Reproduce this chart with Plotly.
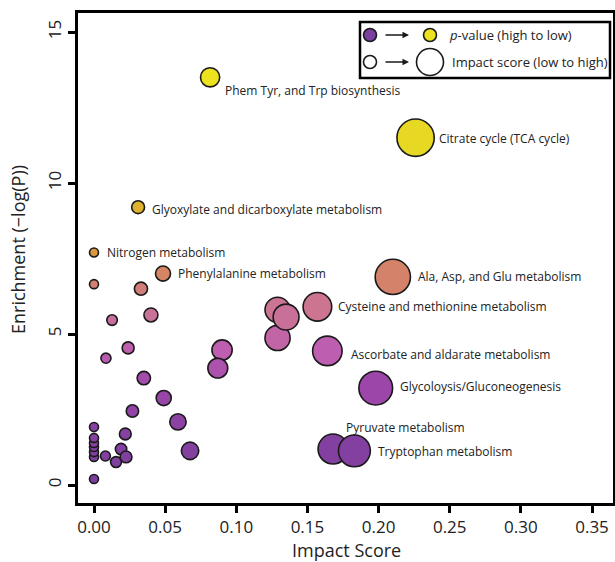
import plotly.graph_objects as go

# ---- data ----
impact = [0.000, 0.000, 0.000, 0.000, 0.000, 0.000, 0.000, 0.008, 0.0155, 0.019, 0.0225,
          0.022, 0.027, 0.0675, 0.059, 0.049, 0.035, 0.0084, 0.024, 0.0127, 0.040,
          0.033, 0.000, 0.0485, 0.000, 0.031, 0.090, 0.087,
          0.129, 0.129, 0.135, 0.157, 0.164, 0.198, 0.210, 0.168, 0.183,
          0.0816, 0.226]
enrich = [0.20, 0.93, 1.09, 1.26, 1.39, 1.56, 1.92, 0.96, 0.76, 1.19, 0.93,
          1.69, 2.45, 1.13, 2.09, 2.88, 3.54, 4.20, 4.54, 5.46, 5.63,
          6.50, 6.65, 7.00, 7.70, 9.20, 4.47, 3.87,
          4.87, 5.80, 5.56, 5.90, 4.44, 3.21, 6.89, 1.19, 1.13,
          13.50, 11.50]
labels = ["", "", "", "", "", "", "", "", "", "", "",
          "", "", "", "", "", "", "", "", "", "",
          "", "", "Phenylalanine metabolism", "Nitrogen metabolism",
          "Glyoxylate and dicarboxylate metabolism", "", "",
          "", "", "", "Cysteine and methionine metabolism",
          "Ascorbate and aldarate metabolism", "Glycoloysis/Gluconeogenesis",
          "Ala, Asp, and Glu metabolism", "Pyruvate metabolism", "Tryptophan metabolism",
          "Phem Tyr, and Trp biosynthesis", "Citrate cycle (TCA cycle)"]
# label offsets in pixels (dx, dy) relative to the point
label_dx = {"Phenylalanine metabolism": 13, "Nitrogen metabolism": 11,
            "Glyoxylate and dicarboxylate metabolism": 12,
            "Cysteine and methionine metabolism": 19,
            "Ascorbate and aldarate metabolism": 22,
            "Glycoloysis/Gluconeogenesis": 22, "Ala, Asp, and Glu metabolism": 23,
            "Pyruvate metabolism": 11, "Tryptophan metabolism": 22,
            "Phem Tyr, and Trp biosynthesis": 13, "Citrate cycle (TCA cycle)": 21}
label_dy = {"Phenylalanine metabolism": 0, "Nitrogen metabolism": 0,
            "Glyoxylate and dicarboxylate metabolism": -2,
            "Cysteine and methionine metabolism": 0,
            "Ascorbate and aldarate metabolism": -4,
            "Glycoloysis/Gluconeogenesis": 2, "Ala, Asp, and Glu metabolism": 0,
            "Pyruvate metabolism": 22, "Tryptophan metabolism": -1,
            "Phem Tyr, and Trp biosynthesis": -13, "Citrate cycle (TCA cycle)": -1}

x_ticks = [0.0, 0.05, 0.10, 0.15, 0.20, 0.25, 0.30, 0.35]
x_ticktext = ["0.00", "0.05", "0.10", "0.15", "0.20", "0.25", "0.30", "0.35"]
y_ticks = [0, 5, 10, 15]

FONT = "Open Sans"
W, H = 615, 562
L, R, T, B = 78, 2, 13, 59
PW, PH = W - L - R, H - T - B

colorscale = [[0.0, "#7a3e9d"], [0.15, "#8a42a3"], [0.24, "#9c46a9"],
              [0.33, "#bd5eb0"], [0.43, "#cc7494"], [0.51, "#d5826a"],
              [0.57, "#d9983f"], [0.68, "#deb22e"], [0.85, "#e7d824"],
              [1.0, "#ede21e"]]

sizes = [9 + 125 * v for v in impact]

fig = go.Figure()
fig.add_trace(go.Scatter(
    x=impact, y=enrich, mode="markers",
    marker=dict(size=sizes, color=enrich, colorscale=colorscale, cmin=0, cmax=13.5,
                line=dict(color="#1a1a1a", width=1.6), opacity=1),
    hoverinfo="x+y", showlegend=False))

for xi, yi, lab in zip(impact, enrich, labels):
    if lab:
        fig.add_annotation(x=xi, y=yi, text=lab, showarrow=False, xanchor="left",
                           yanchor="middle", xshift=label_dx[lab], yshift=label_dy[lab],
                           font=dict(family=FONT, size=12, color="#222"))


def px(xp):
    return (xp - L) / PW


def py(yp):
    return (H - B - yp) / PH


# legend box
fig.add_shape(type="rect", xref="paper", yref="paper", x0=px(360), x1=px(610),
              y0=py(78), y1=py(22), line=dict(color="black", width=2.5),
              fillcolor="white", layer="above")


def circ(cx, cy, d, fill):
    fig.add_shape(type="circle", xref="paper", yref="paper",
                  x0=px(cx - d / 2), x1=px(cx + d / 2), y0=py(cy + d / 2), y1=py(cy - d / 2),
                  line=dict(color="#1a1a1a", width=1.6), fillcolor=fill, layer="above")


circ(370, 35, 13, "#7a3e9d")
circ(430, 35, 13, "#ede21e")
circ(370, 62, 13, "white")
circ(430, 62, 27, "white")
for yy in (35, 62):
    fig.add_annotation(xref="paper", yref="paper", x=px(409), y=py(yy), ax=-25, ay=0,
                       text="", showarrow=True, arrowhead=2, arrowsize=1, arrowwidth=1.3,
                       arrowcolor="#1a1a1a")
fig.add_annotation(xref="paper", yref="paper", x=px(447), y=py(35), xanchor="left",
                   yanchor="middle", showarrow=False, text="<i>p</i>-value (high to low)",
                   font=dict(family=FONT, size=13, color="#222"))
fig.add_annotation(xref="paper", yref="paper", x=px(450), y=py(62), xanchor="left",
                   yanchor="middle", showarrow=False, text="Impact score (low to high)",
                   font=dict(family=FONT, size=13, color="#222"))

# axis titles
fig.add_annotation(xref="paper", yref="paper", x=px(346), y=py(550), xanchor="center",
                   yanchor="middle", showarrow=False, text="Impact Score", borderpad=0,
                   font=dict(family=FONT, size=18, color="#222"))
fig.add_annotation(xref="paper", yref="paper", x=px(18), y=py(250), xanchor="center",
                   yanchor="middle", showarrow=False, text="Enrichment (\u2212log(P))",
                   textangle=-90, borderpad=0, font=dict(family=FONT, size=18, color="#222"))

xr = [(L - 94) / 1422.9, (W - R - 94) / 1422.9]
yr = [(485 - (H - B)) / 30.2, (485 - T) / 30.2]

fig.update_layout(
    width=W, height=H, margin=dict(l=L, r=R, t=T, b=B),
    plot_bgcolor="white", paper_bgcolor="white",
    font=dict(family=FONT, color="#222"),
    xaxis=dict(range=xr, tickvals=x_ticks, ticktext=x_ticktext, showgrid=False,
               zeroline=False, showline=True, mirror=True, linecolor="black", linewidth=2.5,
               ticks="outside", ticklen=7, tickwidth=2.5, tickcolor="black",
               tickfont=dict(size=17, family=FONT, color="#222"), automargin=False),
    yaxis=dict(range=yr, tickvals=y_ticks, showgrid=False, zeroline=False,
               showline=True, mirror=True, linecolor="black", linewidth=2.5,
               ticks="outside", ticklen=7, tickwidth=2.5, tickcolor="black", tickangle=-90,
               tickfont=dict(size=17, family=FONT, color="#222"), automargin=False),
)

fig.write_html("out.html", config={"displayModeBar": False},
               post_script="document.body.style.margin='0px';")
